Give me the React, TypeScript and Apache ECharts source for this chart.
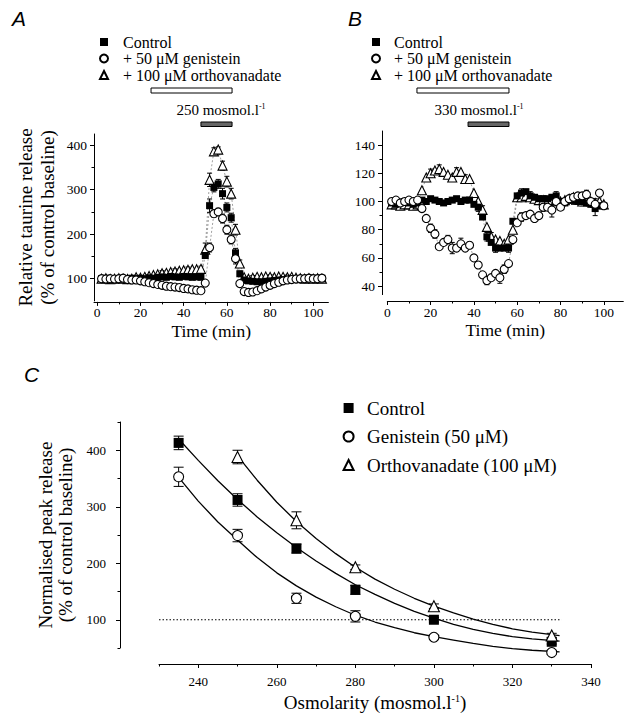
import React, { useEffect, useRef } from 'react';
import * as echarts from 'echarts';

// ---------- Panel A (250 mosmol/l) ----------
const timeA = [2,4,6,8,10,12,14,16,18,20,22,24,26,28,30,32,34,36,38,40,42,44,46,48,50,52,54,56,58,60,62,64,66,68,70,72,74,76,78,80,82,84,86,88,90,92,94,96,98,100,102,104];
const ctrlA = [100,101,100,100,99,100,100,101,100,101,100,102,101,103,104,103,105,104,103,105,104,103,104,103,152,264,305,313,291,260,237,158,111,97,95,94,93,93,94,95,96,97,98,99,99,100,100,100,101,101,100,101];
const genA = [100,99,100,99,100,101,98,97,97,95,93,91,89,87,85,83,82,81,80,78,77,75,74,73,90,170,246,250,235,210,188,145,89,71,69,70,73,77,81,85,89,92,95,97,98,99,100,100,101,100,100,101];
const orthoA = [100,101,99,100,101,100,99,100,103,102,104,106,108,110,112,113,115,116,118,119,120,121,121,122,165,322,386,390,354,318,291,210,134,103,100,102,104,103,105,104,103,105,104,103,104,102,101,100,101,100,101,100];
const errCtrlA = [[28,5],[34,5],[40,5],[46,5],[52,15],[54,10],[56,10],[58,12],[60,10],[62,10],[64,10],[66,6],[70,4],[76,4]];
const errGenA = [[52,10],[54,8],[56,8],[58,10],[60,10],[62,10],[64,12],[68,4],[72,4]];
const errOrthoA = [[30,6],[36,6],[42,6],[48,6],[50,15],[52,15],[54,8],[56,6],[58,10],[60,12],[62,12],[64,12],[66,8],[72,5],[80,5],[88,5]];
const openBarA = [24.9, 62.4];
const hypoBarA = [48, 62.4];

// ---------- Panel B (330 mosmol/l) ----------
const timeB = [2,4,6,8,10,12,14,16,18,20,22,24,26,28,30,32,34,36,38,40,42,44,46,48,50,52,54,56,58,60,62,64,66,68,70,72,74,76,78,80,82,84,86,88,90,92,94,96,98,100];
const ctrlB = [99,98,99,100,99,98,99,101,100,102,101,100,99,100,101,102,100,101,101,98,96,89,75,71,67,67,67,67,86,104,106,107,104,103,102,102,102,103,104,100,99,101,101,100,100,99,98,95,97,97];
const genB = [100,101,99,100,101,100,101,95,88,81,77,68,71,73,67,67,70,67,69,60,55,48,44,46,49,46,52,56,73,85,89,90,91,88,90,96,96,94,100,96,100,102,103,104,104,105,100,98,106,97];
const orthoB = [98,98,97,98,98,97,98,108,117,120,122,123,121,119,117,121,121,116,116,106,100,94,82,75,73,72,70,73,80,103,103,104,103,102,101,101,100,101,102,100,101,102,103,102,100,101,100,99,100,98];
const errCtrlB = [[42,3],[46,3],[50,3],[56,3],[62,3],[66,3],[78,3],[86,3],[96,5]];
const errGenB = [[20,3],[22,3],[28,3],[30,4],[34,4],[46,3],[52,4],[54,3],[62,3],[72,3],[76,5],[92,3],[96,4]];
const errOrthoB = [[20,3],[24,3],[32,3],[36,3],[44,3],[48,3],[64,3],[76,4],[90,3]];
const openBarB = [13.7, 56.2];
const hypoBarB = [37.3, 56.2];

// ---------- Panel C ----------
const osmCtrl = [235, 250, 265, 280, 300, 330];
const peakCtrl = [413, 312, 226, 153, 100, 61];
const errCtrl = [12, 11, 8, 8, 4, 4];
const osmGen = [235, 250, 265, 280, 300, 330];
const peakGen = [353, 249, 138, 106, 69, 42];
const errGen = [17, 11, 9, 10, 3, 3];
const osmOrtho = [250, 265, 280, 300, 330];
const peakOrtho = [388, 276, 193, 124, 72];
const errOrtho = [12, 15, 4, 4, 4];
const fitX = [235,240,245,250,255,260,265,270,275,280,285,290,295,300,305,310,315,320,325,332];
const fitCtrl = [420,382,346,313,282,254,228,204,182,162,145,129,115,103,92,83,76,70,66,62];
const fitGen = [352,310,273,241,210,183,160,140,123,108,96,86,77,70,64,58,53,49,46,43];
const fitXOrtho = [250,255,260,265,270,275,280,285,290,295,300,305,310,315,320,325,332];
const fitOrtho = [390,347,308,274,244,217,193,172,154,138,124,112,101,92,84,78,72];
const refLineC = [[230, 100], [332.5, 100]];

// tick values
const ticksTimeMajor = [0, 20, 40, 60, 80, 100];
const ticksTimeMinor = [10, 30, 50, 70, 90];
const ticksAYMajor = [100, 200, 300, 400];
const ticksAYMinor = [150, 250, 350];
const ticksBYMajor = [40, 60, 80, 100, 120, 140];
const ticksBYMinor = [50, 70, 90, 110, 130];
const ticksCXMajor = [240, 260, 280, 300, 320, 340];
const ticksCXMinor = [230, 250, 270, 290, 310, 330];
const ticksCYMajor = [100, 200, 300, 400];
const ticksCYMinor = [50, 150, 250, 350, 450];

const namesAB = ['Control', '+ 50 \u03BCM genistein', '+ 100 \u03BCM orthovanadate'];
const namesC = ['Control', 'Genistein (50 \u03BCM)', 'Orthovanadate (100 \u03BCM)'];

const serif = "'Liberation Serif', 'DejaVu Serif', 'Times New Roman', serif";
const sans = "'Liberation Sans', Arial, sans-serif";
const black = '#000';

const zip = (xs: number[], ys: number[]) => xs.map((x, i) => [x, ys[i]]);
const errFromSparse = (xs: number[], ys: number[], sp: number[][]) =>
  sp.map(([t, e]) => [t, ys[xs.indexOf(t)], e]);

function mainX(grid: number, min: number, max: number, ticks: number[], offset: number, margin: number, name: string, nameGap: number, nameStyle: any, fontSize: number) {
  return {
    type: 'value', gridIndex: grid, min, max, position: 'bottom', offset,
    axisLine: { show: true, onZero: false, lineStyle: { color: black, width: 1 } },
    axisTick: { show: true, inside: false, length: 4, customValues: ticks, lineStyle: { color: black, width: 1 } },
    axisLabel: { show: true, customValues: ticks, margin, color: black, fontFamily: serif, fontSize },
    splitLine: { show: false },
    name, nameLocation: 'middle', nameGap, nameTextStyle: nameStyle,
  };
}
function minorX(grid: number, min: number, max: number, ticks: number[], offset: number) {
  return {
    type: 'value', gridIndex: grid, min, max, position: 'bottom', offset,
    axisLine: { show: false, onZero: false },
    axisTick: { show: true, inside: false, length: 2.5, customValues: ticks, lineStyle: { color: black, width: 1 } },
    axisLabel: { show: false }, splitLine: { show: false },
  };
}
function mainY(grid: number, min: number, max: number, ticks: number[], offset: number, margin: number, name: string, nameGap: number, nameStyle: any, fontSize: number) {
  return {
    type: 'value', gridIndex: grid, min, max, position: 'left', offset,
    axisLine: { show: true, onZero: false, lineStyle: { color: black, width: 1 } },
    axisTick: { show: true, inside: false, length: 4, customValues: ticks, lineStyle: { color: black, width: 1 } },
    axisLabel: { show: true, customValues: ticks, margin, color: black, fontFamily: serif, fontSize },
    splitLine: { show: false },
    name, nameLocation: 'middle', nameGap, nameTextStyle: nameStyle,
  };
}
function minorY(grid: number, min: number, max: number, ticks: number[], offset: number) {
  return {
    type: 'value', gridIndex: grid, min, max, position: 'left', offset,
    axisLine: { show: false, onZero: false },
    axisTick: { show: true, inside: false, length: 2.5, customValues: ticks, lineStyle: { color: black, width: 1 } },
    axisLabel: { show: false }, splitLine: { show: false },
  };
}

function errSeries(name: string, axis: number, data: number[][], cap: number) {
  return {
    type: 'custom', name, xAxisIndex: axis, yAxisIndex: axis, z: 2, silent: true, clip: false,
    encode: { x: 0, y: 1 },
    data,
    renderItem: (_p: any, api: any) => {
      const x = api.value(0), y = api.value(1), e = api.value(2);
      const t = api.coord([x, y + e]);
      const b = api.coord([x, y - e]);
      const style = { stroke: black, lineWidth: 1, fill: null };
      return {
        type: 'group',
        children: [
          { type: 'line', shape: { x1: t[0], y1: t[1], x2: b[0], y2: b[1] }, style },
          { type: 'line', shape: { x1: t[0] - cap, y1: t[1], x2: t[0] + cap, y2: t[1] }, style },
          { type: 'line', shape: { x1: b[0] - cap, y1: b[1], x2: b[0] + cap, y2: b[1] }, style },
        ],
      };
    },
  };
}

function connLine(name: string, axis: number, data: number[][]) {
  return {
    type: 'line', name, xAxisIndex: axis, yAxisIndex: axis, data, z: 1, silent: true,
    symbol: 'none', lineStyle: { color: '#777', width: 0.7, type: [2, 2] },
  };
}

function scatter(name: string, axis: number, data: number[][], kind: string, size: number, z: number) {
  const filled = kind === 'rect';
  return {
    type: 'scatter', name, xAxisIndex: axis, yAxisIndex: axis, data, z, clip: false,
    symbol: kind, symbolSize: size, silent: true,
    itemStyle: filled ? { color: black, borderWidth: 0, opacity: 1 } : { color: '#fff', borderColor: black, borderWidth: 1.1, opacity: 1 },
  };
}

function buildOption() {
  const nameStyleTime = { fontFamily: serif, fontSize: 17.5, color: black };
  const yTitleA = { fontFamily: serif, fontSize: 19, lineHeight: 22, color: black, align: 'center' };
  const yTitleC = { fontFamily: serif, fontSize: 19, lineHeight: 20, color: black, align: 'center' };
  const xTitleC = { fontFamily: serif, fontSize: 19, color: black, rich: { sup: { fontFamily: serif, fontSize: 10, verticalAlign: 'bottom', padding: [0, 0, 9, 0], color: black } } };

  const legendText = (fs: number, lh: number, pad: number) => ({ fontFamily: serif, fontSize: fs, lineHeight: lh, color: black, padding: [0, 0, 0, pad] });

  return {
    animation: false,
    backgroundColor: '#fff',
    textStyle: { fontFamily: serif },
    grid: [
      { left: 94, top: 134, width: 234.4, height: 166.9, outerBoundsMode: 'none' },
      { left: 387.3, top: 131, width: 236, height: 163.6, outerBoundsMode: 'none' },
      { left: 159, top: 422, width: 432, height: 226, outerBoundsMode: 'none' },
    ],
    xAxis: [
      mainX(0, -1.5, 107, ticksTimeMajor, 1, 4, 'Time (min)', 20, nameStyleTime, 13.5),
      minorX(0, -1.5, 107, ticksTimeMinor, 1),
      mainX(1, 0, 109, ticksTimeMajor, 6.4, 4, 'Time (min)', 20, nameStyleTime, 13.5),
      minorX(1, 0, 109, ticksTimeMinor, 6.4),
      mainX(2, 230, 340, ticksCXMajor, 16, 11, 'Osmolarity (mosmol.l{sup|-1})', 29, xTitleC, 13),
      minorX(2, 230, 340, ticksCXMinor, 16),
    ],
    yAxis: [
      mainY(0, 50, 425, ticksAYMajor, 0, 7, 'Relative taurine release\n(% of control baseline)', 35.5, yTitleA, 13.5),
      minorY(0, 50, 425, ticksAYMinor, 0),
      mainY(1, 34, 150, ticksBYMajor, 5.3, 7, '', 0, {}, 13.5),
      minorY(1, 34, 150, ticksBYMinor, 5.3),
      mainY(2, 50, 450, ticksCYMajor, 39, 14, 'Normalised peak release\n(% of control baseline)', 35, yTitleC, 13),
      minorY(2, 50, 450, ticksCYMinor, 39),
    ],
    legend: [
      { data: namesAB, left: 99, top: 33.75, orient: 'vertical', padding: 0, itemGap: 0, itemWidth: 8, itemHeight: 8, selectedMode: false, textStyle: legendText(16, 16.5, 10) },
      { data: namesAB, left: 371, top: 33.75, orient: 'vertical', padding: 0, itemGap: 0, itemWidth: 8, itemHeight: 8, selectedMode: false, textStyle: legendText(16, 16.5, 9) },
      { data: namesC, left: 342.6, top: 398, orient: 'vertical', padding: 0, itemGap: 8.5, itemWidth: 10, itemHeight: 10, selectedMode: false, textStyle: legendText(19, 20, 8.4) },
    ],
    series: [
      // Panel A
      connLine('lineA1', 0, zip(timeA, orthoA)),
      connLine('lineA2', 0, zip(timeA, ctrlA)),
      connLine('lineA3', 0, zip(timeA, genA)),
      errSeries('errA1', 0, errFromSparse(timeA, orthoA, errOrthoA), 2.5),
      errSeries('errA2', 0, errFromSparse(timeA, ctrlA, errCtrlA), 2.5),
      errSeries('errA3', 0, errFromSparse(timeA, genA, errGenA), 2.5),
      scatter(namesAB[2], 0, zip(timeA, orthoA), 'triangle', 9, 3),
      scatter(namesAB[0], 0, zip(timeA, ctrlA), 'rect', 7, 4),
      scatter(namesAB[1], 0, zip(timeA, genA), 'circle', 8, 5),
      // Panel B (axis index 2)
      connLine('lineB1', 2, zip(timeB, orthoB)),
      connLine('lineB2', 2, zip(timeB, ctrlB)),
      connLine('lineB3', 2, zip(timeB, genB)),
      errSeries('errB1', 2, errFromSparse(timeB, orthoB, errOrthoB), 2.5),
      errSeries('errB2', 2, errFromSparse(timeB, ctrlB, errCtrlB), 2.5),
      errSeries('errB3', 2, errFromSparse(timeB, genB, errGenB), 2.5),
      scatter(namesAB[2], 2, zip(timeB, orthoB), 'triangle', 9, 3),
      scatter(namesAB[0], 2, zip(timeB, ctrlB), 'rect', 7, 4),
      scatter(namesAB[1], 2, zip(timeB, genB), 'circle', 8, 5),
      // Panel C (axis index 4)
      {
        type: 'line', name: 'ref100', xAxisIndex: 4, yAxisIndex: 4, data: refLineC, symbol: 'none', silent: true, z: 1,
        lineStyle: { color: black, width: 1, type: [1.5, 2] },
      },
      ...[[fitX, fitCtrl], [fitX, fitGen], [fitXOrtho, fitOrtho]].map(([xs, ys], i) => ({
        type: 'line', name: 'fit' + i, xAxisIndex: 4, yAxisIndex: 4, data: zip(xs, ys), symbol: 'none', silent: true,
        smooth: false, clip: false, z: 1, lineStyle: { color: black, width: 1.3, join: 'round' },
      })),
      errSeries('errC1', 4, osmCtrl.map((x, i) => [x, peakCtrl[i], errCtrl[i]]), 5),
      errSeries('errC2', 4, osmGen.map((x, i) => [x, peakGen[i], errGen[i]]), 5),
      errSeries('errC3', 4, osmOrtho.map((x, i) => [x, peakOrtho[i], errOrtho[i]]), 5),
      scatter(namesC[0], 4, zip(osmCtrl, peakCtrl), 'rect', 10, 4),
      scatter(namesC[1], 4, zip(osmGen, peakGen), 'circle', 10, 5),
      scatter(namesC[2], 4, zip(osmOrtho, peakOrtho), 'triangle', 11, 5),
    ],
  };
}

export default function App() {
  const ref = useRef<HTMLDivElement>(null);
  useEffect(() => {
    const chart = echarts.init(ref.current!, null, { renderer: 'svg' });
    chart.setOption(buildOption() as any);
    const px = (ax: number, v: number) => chart.convertToPixel({ xAxisIndex: ax } as any, v) as unknown as number;
    const bar = (ax: number, r: number[], y: number, h: number, fill: string) => ({
      type: 'rect',
      shape: { x: px(ax, r[0]), y, width: px(ax, r[1]) - px(ax, r[0]), height: h },
      style: { fill, stroke: black, lineWidth: 1 },
    });
    const supRich = { sup: { fontFamily: serif, fontSize: 8, verticalAlign: 'bottom', padding: [0, 0, 7, 0], fill: black } };
    const letter = (t: string, x: number, y: number) => ({
      type: 'text', x, y,
      style: { text: t, fontFamily: sans, fontStyle: 'italic', fontSize: 21, fill: black, textVerticalAlign: 'top' },
    });
    const osmLabel = (t: string, x: number) => ({
      type: 'text', x, y: 110,
      style: { text: t + ' mosmol.l{sup|-1}', fontFamily: serif, fontSize: 15, fill: black, textAlign: 'center', textVerticalAlign: 'middle', rich: supRich },
    });
    chart.setOption({
      graphic: {
        elements: [
          letter('A', 12, 8),
          letter('B', 348, 8),
          letter('C', 24, 364),
          bar(0, openBarA, 88, 5, '#fff'),
          bar(0, hypoBarA, 122, 4.5, '#666'),
          bar(2, openBarB, 88, 5, '#fff'),
          bar(2, hypoBarB, 122, 4.5, '#666'),
          osmLabel('250', 221),
          osmLabel('330', 479),
        ],
      },
    });
    return () => chart.dispose();
  }, []);
  return <div ref={ref} style={{ position: 'absolute', left: 0, top: 0, width: 634, height: 721 }} />;
}
